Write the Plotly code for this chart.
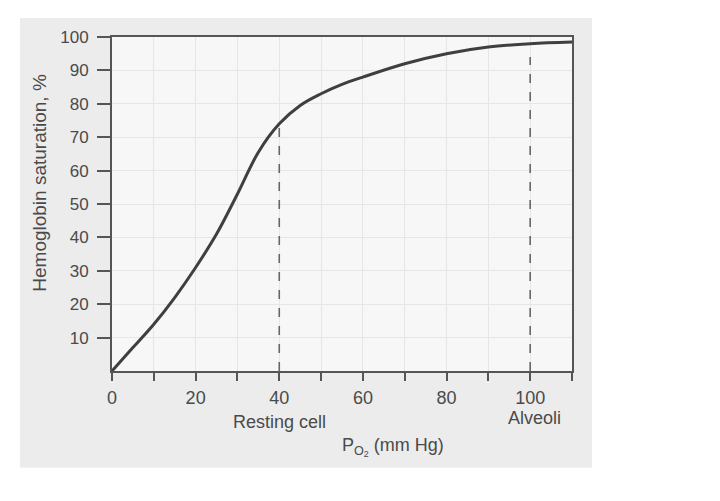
import plotly.graph_objects as go

# oxygen–hemoglobin dissociation curve
po2 = [0, 5, 10, 15, 20, 25, 30, 35, 40, 45, 50, 55, 60, 70, 80, 90, 100, 110]
saturation = [0, 7, 14, 22, 31, 41, 53, 65.5, 74, 79.5, 83, 85.8, 88, 92, 95, 97, 98, 98.5]

resting_po2 = 40
resting_sat = 74
alveoli_po2 = 100
alveoli_sat = 94

x_ticks = list(range(0, 111, 10))
x_ticktext = [str(v) if v % 20 == 0 and v <= 100 else "" for v in x_ticks]
y_ticks = list(range(10, 101, 10))

ink = "#4a4a4a"
font = "Arial, Liberation Sans, sans-serif"

fig = go.Figure()

fig.add_trace(go.Scatter(x=[resting_po2, resting_po2], y=[0, resting_sat], mode="lines",
                         line=dict(color="#666666", width=1.6, dash="dash"), hoverinfo="skip"))
fig.add_trace(go.Scatter(x=[alveoli_po2, alveoli_po2], y=[0, alveoli_sat], mode="lines",
                         line=dict(color="#666666", width=1.6, dash="dash"), hoverinfo="skip"))
fig.add_trace(go.Scatter(x=po2, y=saturation, mode="lines",
                         line=dict(color="#3f3f3f", width=3, shape="spline", smoothing=1.0)))

# grey page of the photographed book, with the lighter chart area on top
fig.add_shape(type="rect", xref="paper", yref="paper", x0=-0.2, x1=1.0435, y0=-0.29, y1=1.057,
              fillcolor="#ececec", line=dict(width=0), layer="below")
fig.add_shape(type="rect", xref="paper", yref="paper", x0=0, x1=1, y0=0, y1=1,
              fillcolor="#f7f7f7", line=dict(width=0), layer="below")

fig.add_annotation(x=resting_po2, y=-0.153, xref="x", yref="paper", text="Resting cell",
                   xanchor="center", yanchor="middle", showarrow=False,
                   font=dict(size=18, color=ink, family=font))
fig.add_annotation(x=alveoli_po2 + 1, y=-0.141, xref="x", yref="paper", text="Alveoli",
                   xanchor="center", yanchor="middle", showarrow=False,
                   font=dict(size=18, color=ink, family=font))
fig.add_annotation(x=0.61, y=-0.228, xref="paper", yref="paper",
                   text="P<sub>O<sub>2</sub></sub> (mm Hg)", xanchor="center", yanchor="middle",
                   showarrow=False, font=dict(size=18, color=ink, family=font))
fig.add_annotation(x=-0.157, y=0.563, xref="paper", yref="paper", text="Hemoglobin saturation, %",
                   xanchor="center", yanchor="middle", textangle=-90, showarrow=False,
                   font=dict(size=19, color=ink, family=font))

fig.update_xaxes(range=[0, 110], tickvals=x_ticks, ticktext=x_ticktext, ticks="outside", ticklen=8,
                 tickwidth=2, tickcolor="#555555", showline=True, mirror=True, linecolor="#555555",
                 linewidth=2, showgrid=True, gridcolor="#e6e6e6", gridwidth=1, zeroline=False,
                 ticklabelstandoff=1, tickfont=dict(size=18, color=ink, family=font))
fig.update_yaxes(range=[0, 100], tickvals=y_ticks, ticks="outside", ticklen=13, tickwidth=2,
                 tickcolor="#555555", showline=True, mirror=True, linecolor="#555555", linewidth=2,
                 showgrid=True, gridcolor="#e6e6e6", gridwidth=1, zeroline=False,
                 ticklabelstandoff=5, tickfont=dict(size=17, color=ink, family=font))

# the page is shown with an 8 px body margin, so the margins are shifted to compensate
fig.update_layout(width=720, height=501, margin=dict(l=104, r=156, t=29, b=138),
                  paper_bgcolor="white", plot_bgcolor="#f7f7f7", showlegend=False)

fig.write_html("out.html")
